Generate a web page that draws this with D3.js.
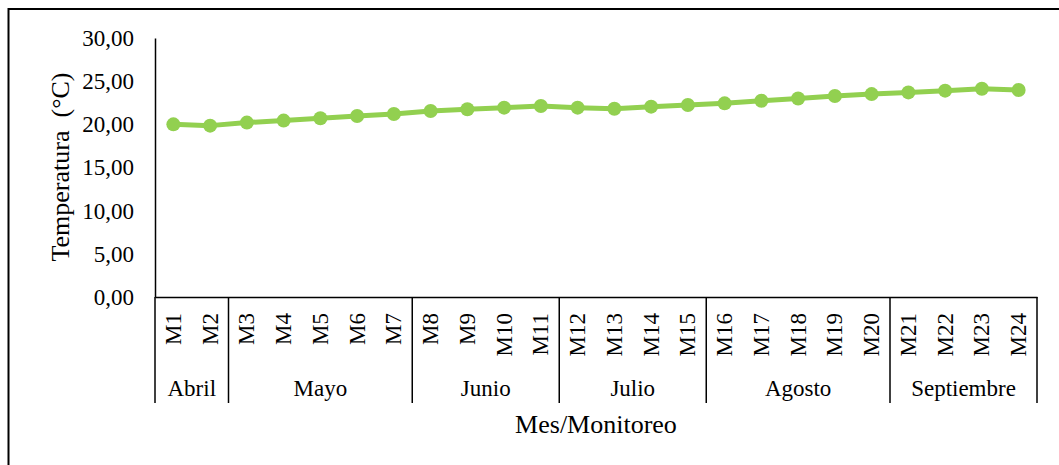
<!DOCTYPE html>
<html><head><meta charset="utf-8">
<script src="https://cdn.jsdelivr.net/npm/d3@7"></script>
<style>body{margin:0;background:#fff}svg{display:block}text{font-family:"Liberation Serif","Times New Roman",serif;fill:#000}</style>
</head><body><svg id="c" width="1059" height="465"></svg>
<script>
const categories = ["M1","M2","M3","M4","M5","M6","M7","M8","M9","M10","M11","M12","M13","M14","M15","M16","M17","M18","M19","M20","M21","M22","M23","M24"];
const temperatures = [20.0,19.85,20.2,20.43,20.7,20.97,21.2,21.55,21.74,21.93,22.12,21.93,21.8,22.05,22.24,22.43,22.74,23.0,23.28,23.5,23.7,23.9,24.13,23.98];
const months = ["Abril","Mayo","Junio","Julio","Agosto","Septiembre"];
const monthCounts = [2,5,4,4,5,4];
const yTicks = [0,5,10,15,20,25,30];
const yTitle = "Temperatura  (°C)";
const xTitle = "Mes/Monitoreo";

const svg = d3.select("#c");
svg.append("rect").attr("x",8.5).attr("y",9).attr("width",1070).attr("height",480)
  .attr("fill","none").attr("stroke","#000").attr("stroke-width",2);

const L=155, R=1037, T=38, B=297;
const x = d3.scaleBand().domain(categories).range([L,R]);
const y = d3.scaleLinear().domain([0,30]).range([B,T]);

// y axis
const ya = svg.append("g").attr("transform",`translate(${L},0)`)
  .call(d3.axisLeft(y).tickValues(yTicks).tickSize(0).tickPadding(21).tickFormat(d=>d3.format(".2f")(d).replace(".",",")));
ya.select(".domain").attr("stroke","#000").attr("stroke-width",1.5);
ya.selectAll("text").attr("font-size",23).attr("dy","0.32em");

// x axis
const xa = svg.append("g").attr("transform",`translate(0,${B})`)
  .call(d3.axisBottom(x).tickSize(0).tickSizeOuter(0));
xa.select(".domain").attr("stroke","#000").attr("stroke-width",1.5);
xa.selectAll("text").attr("font-size",23)
  .attr("transform","rotate(-90)").attr("text-anchor","end").attr("x",-16).attr("y",0).attr("dy","0.33em");

// month group separators and labels
const sepBottom = 403;
let idx = 0;
const bounds = [0];
monthCounts.forEach(c=>{idx+=c;bounds.push(idx);});
bounds.forEach(b=>{
  const xp = b<categories.length ? x(categories[b]) : R;
  svg.append("line").attr("x1",xp).attr("x2",xp).attr("y1",B).attr("y2",sepBottom)
    .attr("stroke","#000").attr("stroke-width",1.5);
});
months.forEach((m,i)=>{
  const x0 = x(categories[bounds[i]]);
  const x1 = bounds[i+1]<categories.length ? x(categories[bounds[i+1]]) : R;
  svg.append("text").attr("x",(x0+x1)/2).attr("y",388).attr("dy","0.33em")
    .attr("text-anchor","middle").attr("font-size",23).text(m);
});

// line
const line = d3.line().x((d,i)=>x(categories[i])+x.bandwidth()/2).y(d=>y(d));
svg.append("path").datum(temperatures).attr("d",line).attr("fill","none")
  .attr("stroke","#92D050").attr("stroke-width",5).attr("stroke-linejoin","round");
svg.selectAll("circle.pt").data(temperatures).join("circle").attr("class","pt")
  .attr("cx",(d,i)=>x(categories[i])+x.bandwidth()/2).attr("cy",d=>y(d)).attr("r",7)
  .attr("fill","#92D050");

// titles
svg.append("text").attr("x",(L+R)/2).attr("y",424).attr("dy","0.33em").attr("text-anchor","middle")
  .attr("font-size",26).text(xTitle);
svg.append("text").attr("transform",`translate(60,167) rotate(-90)`).attr("dy","0.33em")
  .attr("text-anchor","middle").attr("font-size",26).style("white-space","pre").text(yTitle);
</script></body></html>
